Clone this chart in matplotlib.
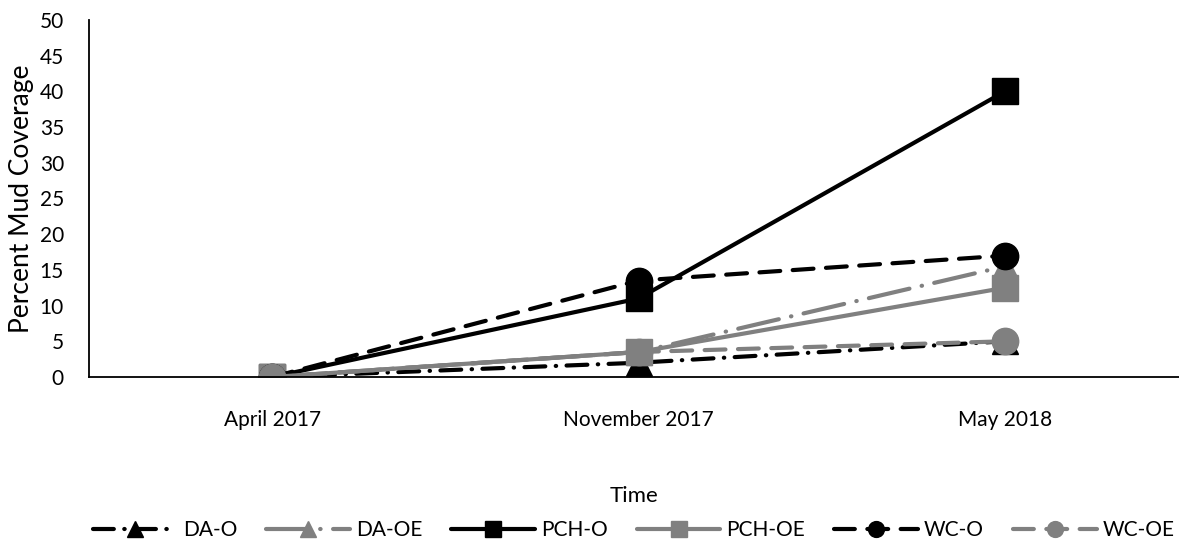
import numpy as np
import matplotlib
matplotlib.use("Agg")
import matplotlib.pyplot as plt

plt.rcParams['font.family'] = ['Lato', 'DejaVu Sans']

# data
times = ["April 2017", "November 2017", "May 2018"]
da_o = [0, 2, 5]
da_oe = [0, 3.5, 15.5]
pch_o = [0, 11, 40]
pch_oe = [0, 3.5, 12.5]
wc_o = [0, 13.5, 17]
wc_oe = [0, 3.5, 5]

black = "#000000"
grey = "#808080"

fig = plt.figure(figsize=(11.79, 5.44), dpi=100)
ax = fig.add_axes([89/1179, 1 - 377/544, 1 - 89/1179, (377 - 20)/544])

x = np.arange(len(times))
lw = 3.0
ms = 19

# series: (values, label, colour, marker, dashes)
series = [
    (da_o, "DA-O", black, "^", (5, 2.5, 0.1, 2.5)),
    (da_oe, "DA-OE", grey, "^", (10, 3, 0.1, 3)),
    (pch_o, "PCH-O", black, "s", None),
    (pch_oe, "PCH-OE", grey, "s", None),
    (wc_o, "WC-O", black, "o", (5, 3)),
    (wc_oe, "WC-OE", grey, "o", (5, 3)),
]

for vals, lab, col, mk, dsh in series:
    line, = ax.plot(x, vals, color=col, lw=lw, marker=mk, markersize=ms,
                    label=lab, solid_capstyle='round', dash_capstyle='round')
    if dsh is not None:
        line.set_dashes(dsh)

ax.set_xlim(-0.5, 2.475)
ax.set_ylim(0, 50)
ax.set_yticks(np.arange(0, 51, 5))
ax.set_xticks(x)
ax.set_xticklabels(times)
ax.tick_params(axis='both', length=0, labelsize=15)
ax.tick_params(axis='x', pad=24)
ax.tick_params(axis='y', pad=18)

for s in ["top", "right"]:
    ax.spines[s].set_visible(False)
ax.spines["left"].set_linewidth(1.3)
ax.spines["bottom"].set_linewidth(1.3)

ax.set_ylabel("Percent Mud Coverage", fontsize=19, labelpad=4)
fig.text(634/1179, 1 - 496/544, "Time", ha='center', va='center', fontsize=16)

fig.legend(loc='center', bbox_to_anchor=(634/1179, 1 - 530/544), ncol=6,
           frameon=False, fontsize=15, handlelength=4.0, markerscale=0.6,
           columnspacing=1.4, handletextpad=0.3)

fig.savefig("out.png", dpi=100)
